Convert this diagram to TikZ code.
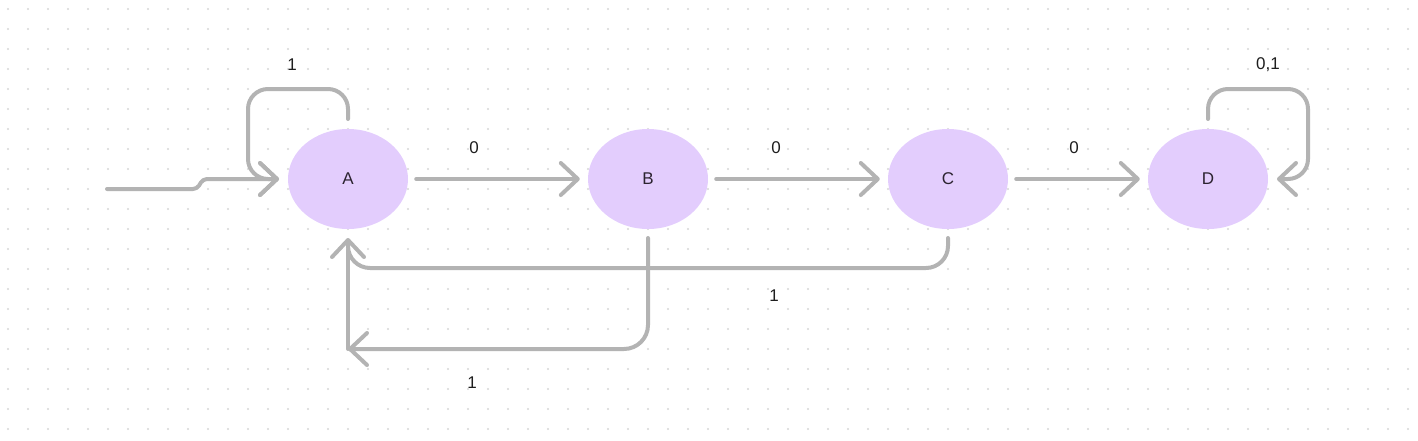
\documentclass[tikz,border=0pt]{standalone}
\usepackage{fontspec}
\setmainfont{Liberation Sans}
\usetikzlibrary{arrows.meta,shapes.geometric}
\definecolor{statefill}{HTML}{E3CDFD}
\definecolor{edgegray}{HTML}{B3B3B3}
\definecolor{griddot}{HTML}{D6D6D6}
\definecolor{labeltext}{HTML}{1E1E1E}
\definecolor{statetext}{HTML}{2C2330}
\begin{document}
\begin{tikzpicture}[x=1pt,y=-1pt,
  state/.style={ellipse,fill=statefill,minimum width=120pt,minimum height=100pt,inner sep=0pt,
    text=statetext,font=\fontsize{17}{20}\selectfont},
  edge/.style={draw=edgegray,line width=4pt,line cap=round,line join=round,rounded corners=20pt},
  tip/.style={-{Straight Barb[length=17pt,width=32pt,round]}},
  lbl/.style={font=\fontsize{17}{20}\selectfont,text=labeltext}]
\useasboundingbox (0,0) rectangle (1418,440);
% dotted canvas
\foreach \i in {0,...,70}
  \foreach \j in {0,...,21}
    \fill[griddot] (8+20*\i,9+20*\j) circle (1.1pt);

\node[state] (A) at (348,179) {A};
\node[state] (B) at (648,179) {B};
\node[state] (C) at (948,179) {C};
\node[state] (D) at (1208,179) {D};

\coordinate (init) at (107,189);
\coordinate (Ain) at (279,179);
\coordinate (Din) at (1277,179);
\coordinate (Bcorner) at (348,349);

% start arrow and self loops
\path[edge,tip,rounded corners=4pt] (init) -- (197,189) -- (203,179) -- (Ain);
\path[edge,tip] (348,119) -- (348,89) -- (248,89) -- (248,179) -- (Ain);
\path[edge,tip] (1208,119) -- (1208,89) -- (1308,89) -- (1308,179) -- (Din);

% transitions on 0
\path[edge,tip,shorten <=8pt,shorten >=8pt] (A) -- (B);
\path[edge,tip,shorten <=8pt,shorten >=8pt] (B) -- (C);
\path[edge,tip,shorten <=8pt,shorten >=8pt] (C) -- (D);

% transitions back to A on 1
\path[edge,tip,rounded corners=22pt] (948,238) -- (948,268) -- (348,268) -- (348,238);
\path[edge,tip,rounded corners=24pt] (648,238) -- (648,349) -- (Bcorner);
\path[edge] (Bcorner) -- (348,250);

\node[lbl] (l1) at (292,65) {1};
\node[lbl] (l2) at (474,148) {0};
\node[lbl] (l3) at (776,148) {0};
\node[lbl] (l4) at (1074,148) {0};
\node[lbl] (l5) at (1268,65) {0,1};
\node[lbl] (l6) at (774,296) {1};
\node[lbl] (l7) at (472,383) {1};
\end{tikzpicture}
\end{document}
